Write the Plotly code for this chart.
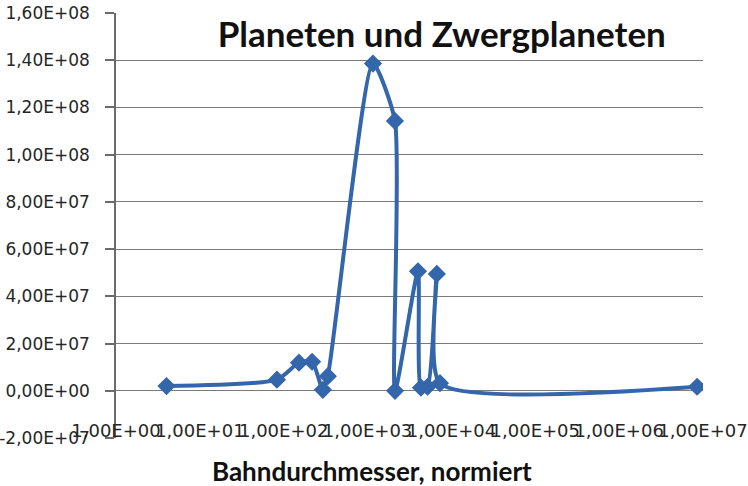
import plotly.graph_objects as go

# Data (x: log scale, y: linear)
bahn_x = [4.0, 83, 152, 218, 293, 336, 1160, 2120, 2125, 3990, 4330, 5200, 6700, 7300, 8.5e6]
wert_y = [2.0e6, 4.7e6, 1.19e7, 1.23e7, 0.4e6, 6.2e6, 1.386e8, 1.143e8, 0.0, 5.06e7, 1.3e6, 1.7e6, 4.95e7, 3.2e6, 1.7e6]

x_tick_vals = [1, 10, 100, 1000, 1e4, 1e5, 1e6, 1e7]
x_tick_text = ["1,00E+00", "1,00E+01", "1,00E+02", "1,00E+03", "1,00E+04", "1,00E+05", "1,00E+06", "1,00E+07"]
y_tick_vals = [-2e7, 0, 2e7, 4e7, 6e7, 8e7, 1e8, 1.2e8, 1.4e8, 1.6e8]
y_tick_text = ["-2,00E+07", "0,00E+00", "2,00E+07", "4,00E+07", "6,00E+07", "8,00E+07",
               "1,00E+08", "1,20E+08", "1,40E+08", "1,60E+08"]

title_text = "Planeten und Zwergplaneten"
x_title = "Bahndurchmesser, normiert"

LINE = "#3466ab"
AX = "#6b6b6b"
TXT = "#262626"

W, H = 748, 486

fig = go.Figure()
fig.add_trace(go.Scatter(
    x=bahn_x, y=wert_y, mode="lines+markers",
    line=dict(color=LINE, width=4, shape="spline", smoothing=0.6),
    marker=dict(symbol="diamond", size=14, color=LINE),
    showlegend=False, hoverinfo="skip",
))

fig.update_layout(
    width=W, height=H,
    margin=dict(l=116, r=45, t=13, b=48),
    paper_bgcolor="white", plot_bgcolor="white",
    title=dict(text=title_text, x=0.555, xref="paper", xanchor="center",
               y=1 - 35 / H, yref="container", yanchor="middle",
               font=dict(family="Lato", size=35, weight="bold", color="#111111")),
    xaxis=dict(type="log", range=[0, 7], tickmode="array", tickvals=x_tick_vals, ticktext=x_tick_text,
               showline=False, ticks="", showgrid=False, zeroline=False,
               ticklabelposition="inside", ticklabeloverflow="allow", tickangle=0,
               ticklabelstandoff=-6,
               tickfont=dict(family="DejaVu Sans", size=18, color=TXT), automargin=False),
    xaxis2=dict(type="log", range=[0, 7], overlaying="x", anchor="free", position=1 / 9,
                tickmode="array", tickvals=x_tick_vals, showticklabels=False,
                showline=True, linecolor=AX, linewidth=1.5, ticks="outside", ticklen=8,
                tickcolor=AX, tickwidth=1.5, showgrid=False, zeroline=False),
    yaxis=dict(range=[-2e7, 1.6e8], tickmode="array", tickvals=y_tick_vals, ticktext=y_tick_text,
               showline=True, linecolor=AX, linewidth=1.5, ticks="outside", ticklen=9,
               tickcolor=AX, tickwidth=1.5, showgrid=True, gridcolor="#7a7a7a", gridwidth=1.2,
               zeroline=False, ticklabelstandoff=12,
               tickfont=dict(family="DejaVu Sans", size=17, color=TXT), automargin=False),
    annotations=[dict(text=x_title, xref="paper", yref="paper", x=0.436, y=-(471 - 438) / 425,
                      xanchor="center", yanchor="middle", showarrow=False,
                      font=dict(family="Lato", size=26, weight="bold", color="#111111"))],
)

# remove the browser's default 8px body margin so the figure fills the window
fig.write_html("out.html", config={"displayModeBar": False},
               post_script="document.body.style.margin='0';")
